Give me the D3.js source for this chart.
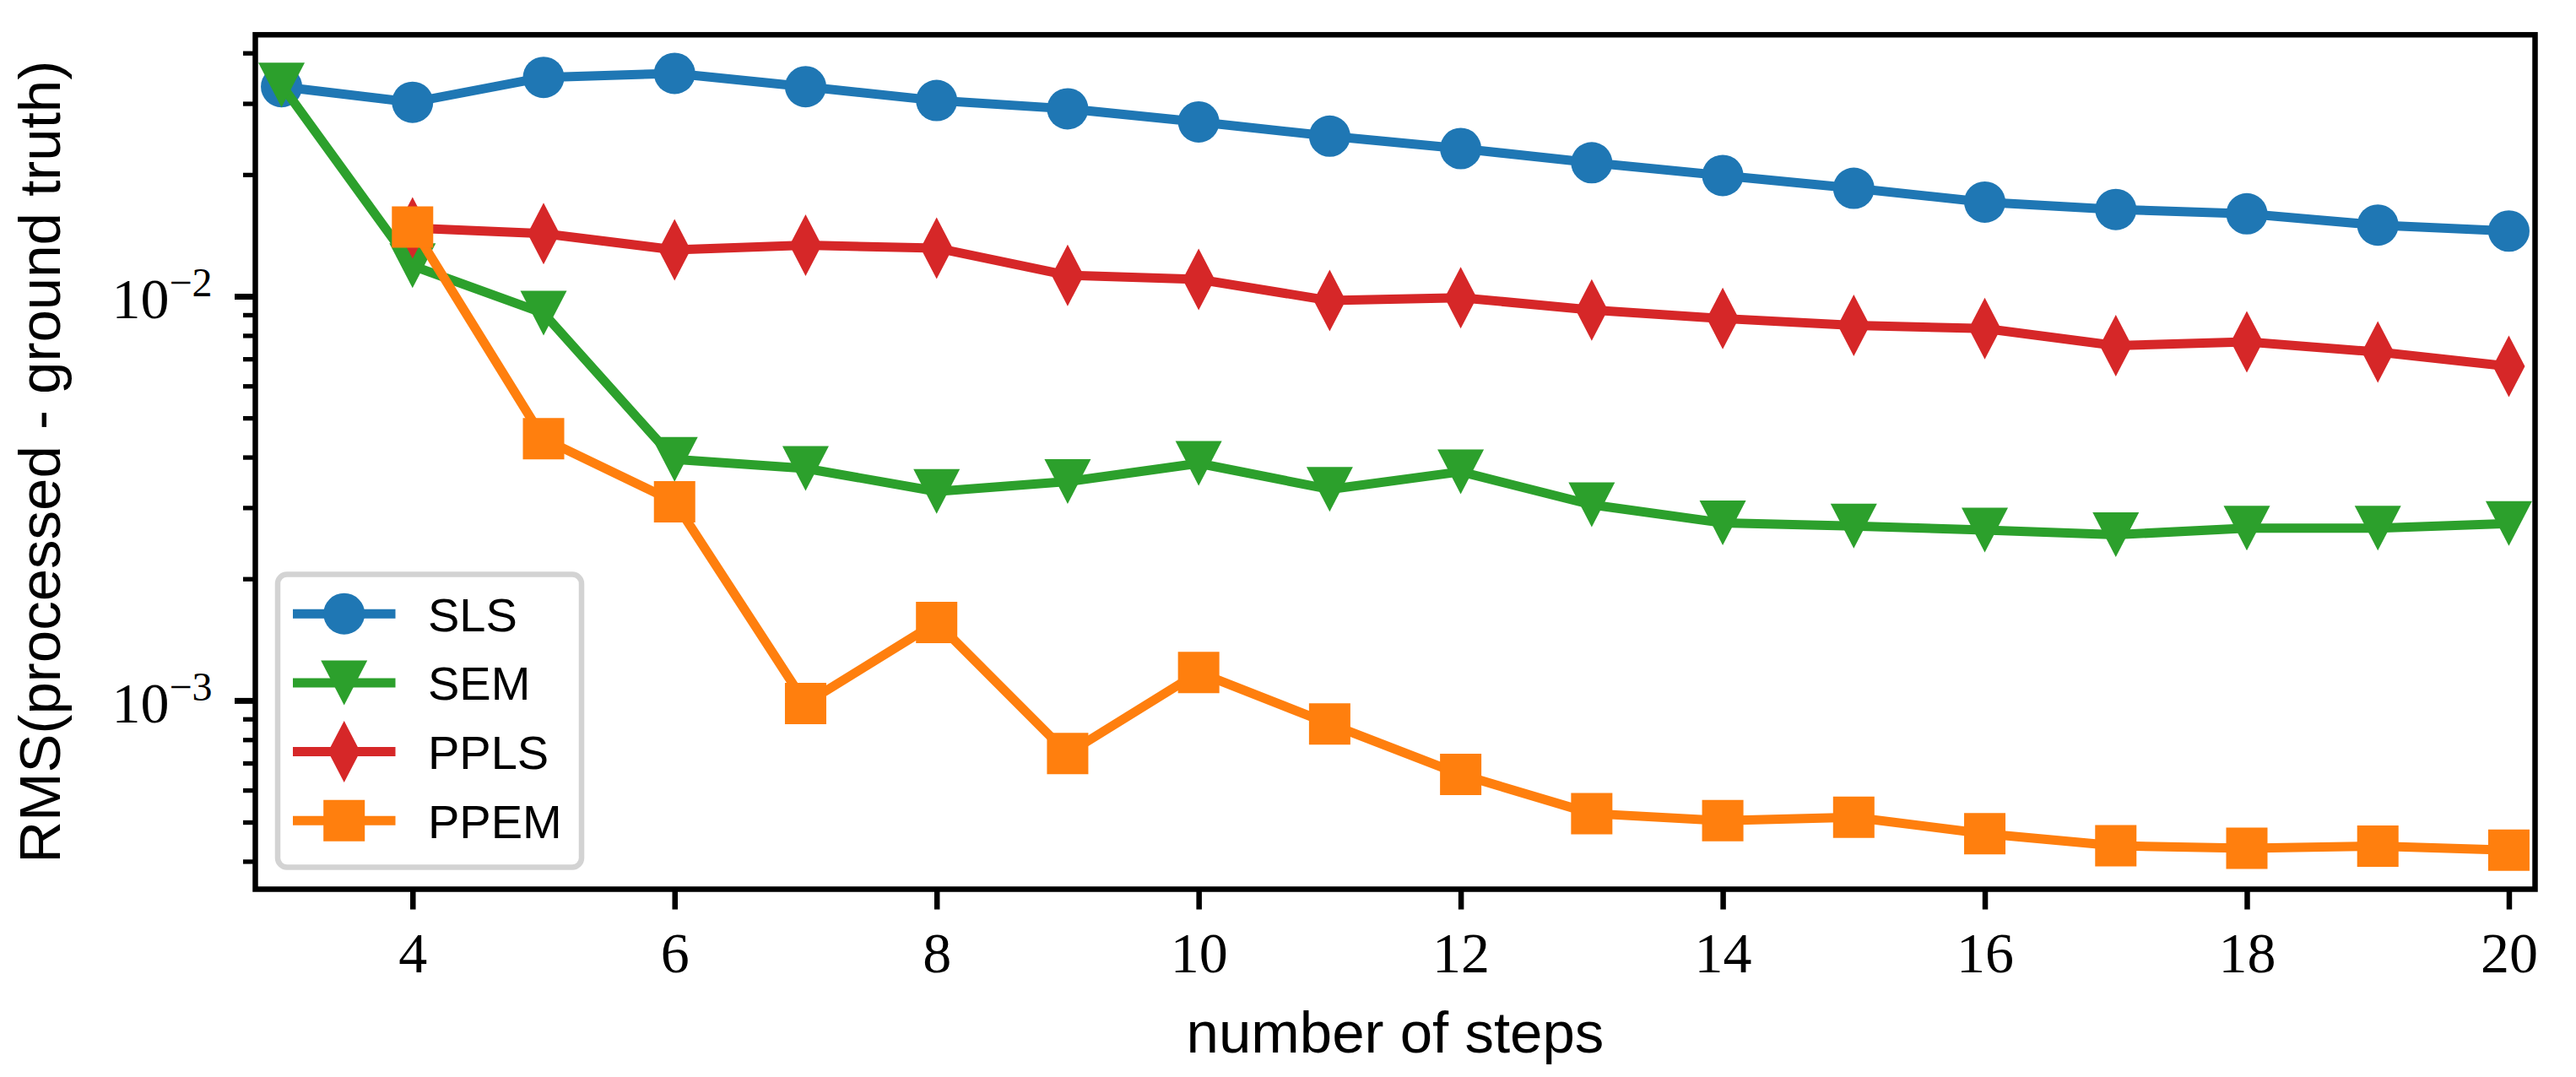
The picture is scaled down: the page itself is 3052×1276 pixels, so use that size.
<!DOCTYPE html>
<html>
<head>
<meta charset="utf-8">
<script src="https://cdn.jsdelivr.net/npm/d3@7"></script>
<style>
  body { margin: 0; background: #fff; }
  svg { display: block; }
</style>
</head>
<body>
<svg id="chart" width="3052" height="1276"></svg>
<script>
// ── data ─────────────────────────────────────────────────────────────
const stepsAll = [3, 4, 5, 6, 7, 8, 9, 10, 11, 12, 13, 14, 15, 16, 17, 18, 19, 20];
const stepsPP  = [4, 5, 6, 7, 8, 9, 10, 11, 12, 13, 14, 15, 16, 17, 18, 19, 20];

const slsValues  = [0.0330, 0.0302, 0.0348, 0.0356, 0.0330, 0.0305, 0.0291, 0.0270, 0.0249,
                    0.0232, 0.0214, 0.0199, 0.0185, 0.0171, 0.0164, 0.0160, 0.0150, 0.0145];
const semValues  = [0.0333, 0.0119, 0.00908, 0.00395, 0.00375, 0.00329, 0.00348, 0.00386, 0.00333,
                    0.00368, 0.00305, 0.00275, 0.00270, 0.00264, 0.00257, 0.00267, 0.00267, 0.00274];
const pplsValues = [0.01476, 0.01429, 0.01303, 0.01337, 0.01316, 0.01127, 0.01101, 0.00976,
                    0.00992, 0.00925, 0.00881, 0.00847, 0.00832, 0.00755, 0.00771, 0.00728, 0.00671];
const ppemValues = [0.01484, 0.00444, 0.00310, 0.000983, 0.00156, 0.000739, 0.001173, 0.000875,
                    0.000656, 0.000525, 0.000504, 0.000514, 0.000468, 0.000437, 0.000431, 0.000436, 0.000426];

const seriesNames = ["SLS", "SEM", "PPLS", "PPEM"];
const xTickValues = [4, 6, 8, 10, 12, 14, 16, 18, 20];
const yMajorTicks = [1e-3, 1e-2];
const yMinorTicks = [4e-4, 5e-4, 6e-4, 7e-4, 8e-4, 9e-4,
                     2e-3, 3e-3, 4e-3, 5e-3, 6e-3, 7e-3, 8e-3, 9e-3,
                     2e-2, 3e-2, 4e-2];

const series = [
  { name: seriesNames[0], xs: stepsAll, ys: slsValues,  color: "#1f77b4", marker: "circle" },
  { name: seriesNames[1], xs: stepsAll, ys: semValues,  color: "#2ca02c", marker: "triangle" },
  { name: seriesNames[2], xs: stepsPP,  ys: pplsValues, color: "#d62728", marker: "diamond" },
  { name: seriesNames[3], xs: stepsPP,  ys: ppemValues, color: "#ff7f0e", marker: "square" }
];

// ── layout ───────────────────────────────────────────────────────────
const svg = d3.select("#chart");
const plot = { left: 302.5, right: 3003.5, top: 41.2, bottom: 1053.5 };

const x = d3.scaleLinear().domain([2.8, 20.2]).range([plot.left, plot.right]);
const y = d3.scaleLog()
  .domain([Math.pow(10, -3.467), Math.pow(10, -1.353)])
  .range([plot.bottom, plot.top]);

const serif = "'Liberation Serif', 'DejaVu Serif', serif";
const sans  = "'Liberation Sans', Arial, sans-serif";

// marker shapes, centred on 0,0
function markerPath(type) {
  if (type === "circle") {
    const r = 24.5;
    return `M${-r},0a${r},${r} 0 1,0 ${2*r},0a${r},${r} 0 1,0 ${-2*r},0Z`;
  }
  if (type === "triangle") return "M-27.5,-26.5L27.5,-26.5L0,26.5Z";
  if (type === "diamond")  return "M0,-36.5L19,0L0,36.5L-19,0Z";
  return "M-24.5,-24.5H24.5V24.5H-24.5Z"; // square
}

// ── series: line then markers, in drawing order ──────────────────────
const lineGen = d3.line().x(d => x(d[0])).y(d => y(d[1]));

series.forEach(s => {
  const pts = s.xs.map((v, i) => [v, s.ys[i]]);
  const g = svg.append("g");
  g.append("path")
    .attr("d", lineGen(pts))
    .attr("fill", "none")
    .attr("stroke", s.color)
    .attr("stroke-width", 11)
    .attr("stroke-linejoin", "round");
  g.selectAll("path.mk")
    .data(pts)
    .join("path")
      .attr("class", "mk")
      .attr("transform", d => `translate(${x(d[0])},${y(d[1])})`)
      .attr("d", markerPath(s.marker))
      .attr("fill", s.color);
});

// ── axes ─────────────────────────────────────────────────────────────
const xAxis = svg.append("g")
  .attr("transform", `translate(0,${plot.bottom})`)
  .call(d3.axisBottom(x).tickValues(xTickValues).tickSize(24).tickFormat(d3.format("d")));
xAxis.select(".domain").remove();
xAxis.selectAll(".tick line").attr("stroke", "#000").attr("stroke-width", 6.5);
xAxis.selectAll(".tick text")
  .attr("y", 98.5).attr("dy", 0)
  .attr("fill", "#000")
  .style("font-family", serif).style("font-size", "68px");

const yMinor = svg.append("g")
  .attr("transform", `translate(${plot.left},0)`)
  .call(d3.axisLeft(y).tickValues(yMinorTicks).tickSize(14.5).tickFormat(""));
yMinor.select(".domain").remove();
yMinor.selectAll(".tick line").attr("stroke", "#000").attr("stroke-width", 5.3);

const yMajor = svg.append("g")
  .attr("transform", `translate(${plot.left},0)`)
  .call(d3.axisLeft(y).tickValues(yMajorTicks).tickSize(24.5).tickFormat(""));
yMajor.select(".domain").remove();
yMajor.selectAll(".tick line").attr("stroke", "#000").attr("stroke-width", 7);
yMajor.selectAll(".tick text").remove();
yMajor.selectAll(".tick").append("text")
  .attr("x", -51).attr("y", 25.3)
  .attr("text-anchor", "end")
  .attr("fill", "#000")
  .style("font-family", serif).style("font-size", "68px")
  .each(function(d) {
    const t = d3.select(this);
    t.append("tspan").text("10");
    t.append("tspan").attr("dy", -25.5).style("font-size", "48px")
      .text("\u2212" + Math.round(-Math.log10(d)));
  });

// spines
svg.append("rect")
  .attr("x", plot.left).attr("y", plot.top)
  .attr("width", plot.right - plot.left).attr("height", plot.bottom - plot.top)
  .attr("fill", "none").attr("stroke", "#000").attr("stroke-width", 6.5);

// axis labels
svg.append("text")
  .attr("x", (plot.left + plot.right) / 2).attr("y", 1246.5)
  .attr("text-anchor", "middle")
  .style("font-family", sans).style("font-size", "69px")
  .text("number of steps");

svg.append("text")
  .attr("transform", `translate(71,${(plot.top + plot.bottom) / 2}) rotate(-90)`)
  .attr("text-anchor", "middle")
  .style("font-family", sans).style("font-size", "69px")
  .text("RMS(processed - ground truth)");

// ── legend ───────────────────────────────────────────────────────────
const legend = svg.append("g");
legend.append("rect")
  .attr("x", 329).attr("y", 680.6).attr("width", 360).attr("height", 346.8)
  .attr("rx", 11).attr("ry", 11)
  .attr("fill", "#fff").attr("fill-opacity", 0.8)
  .attr("stroke", "#d3d3d3").attr("stroke-width", 6.5);

const rows = legend.selectAll("g.row")
  .data(series)
  .join("g")
    .attr("class", "row")
    .attr("transform", (d, i) => `translate(0,${727.2 + i * 81.7})`);
rows.append("line")
  .attr("x1", 347).attr("x2", 468.5)
  .attr("stroke", d => d.color).attr("stroke-width", 11);
rows.append("path")
  .attr("transform", "translate(407.7,0)")
  .attr("d", d => markerPath(d.marker))
  .attr("fill", d => d.color);
rows.append("text")
  .attr("x", 507).attr("y", 20.5)
  .style("font-family", sans).style("font-size", "56px")
  .text(d => d.name);
</script>
</body>
</html>
